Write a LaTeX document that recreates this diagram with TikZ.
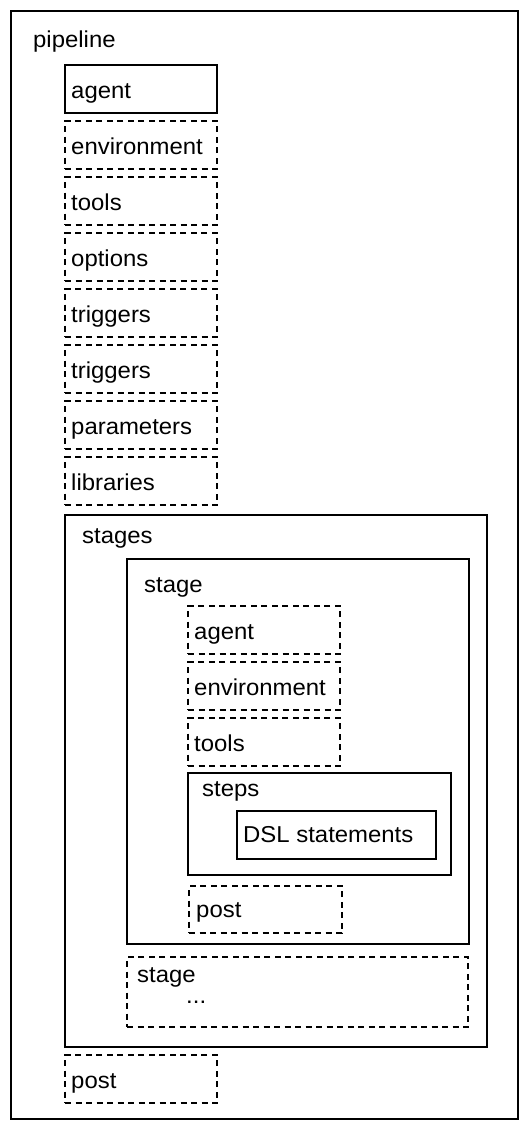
\documentclass[tikz,border=0pt]{standalone}
\usepackage{fontspec}
\setmainfont[FakeStretch=1.04]{Liberation Sans}
\begin{document}
\begin{tikzpicture}[x=1pt,y=-1pt,
  lbl/.style={anchor=base west, inner sep=0pt, font=\fontsize{23}{23}\selectfont},
  sbox/.style={draw, line width=2pt, anchor=north west, inner sep=0pt, outer sep=0pt},
  dbox/.style={sbox, dash pattern=on 6pt off 4.5pt},
]
\useasboundingbox (0,0) rectangle (530,1132);
% outer pipeline
\node[sbox, minimum width=507pt, minimum height=1108pt] (pipeline) at (11,11) {};
\node[lbl] (pipelinelbl) at (33,48) {pipeline};
% top-level boxes
\node[sbox, minimum width=152pt, minimum height=48pt] (agent) at (65,65) {};
\node[lbl] (agentlbl) at (71,98) {agent};
\node[dbox, minimum width=152pt, minimum height=48pt] (env) at (65,121) {};
\node[lbl] (envlbl) at (71,154) {environment};
\node[dbox, minimum width=152pt, minimum height=48pt] (tools) at (65,177) {};
\node[lbl] (toolslbl) at (71,210) {tools};
\node[dbox, minimum width=152pt, minimum height=48pt] (options) at (65,233) {};
\node[lbl] (optionslbl) at (71,266) {options};
\node[dbox, minimum width=152pt, minimum height=48pt] (trig1) at (65,289) {};
\node[lbl] (trig1lbl) at (71,322) {triggers};
\node[dbox, minimum width=152pt, minimum height=48pt] (trig2) at (65,345) {};
\node[lbl] (trig2lbl) at (71,378) {triggers};
\node[dbox, minimum width=152pt, minimum height=48pt] (params) at (65,401) {};
\node[lbl] (paramslbl) at (71,434) {parameters};
\node[dbox, minimum width=152pt, minimum height=48pt] (libs) at (65,457) {};
\node[lbl] (libslbl) at (71,490) {libraries};
% stages
\node[sbox, minimum width=422pt, minimum height=532pt] (stages) at (65,515) {};
\node[lbl] (stageslbl) at (82,543) {stages};
% stage
\node[sbox, minimum width=342pt, minimum height=385pt] (stage) at (127,559) {};
\node[lbl] (stagelbl) at (144,592) {stage};
\node[dbox, minimum width=152pt, minimum height=48pt] (sagent) at (188,606) {};
\node[lbl] (sagentlbl) at (194,639) {agent};
\node[dbox, minimum width=152pt, minimum height=48pt] (senv) at (188,662) {};
\node[lbl] (senvlbl) at (194,695) {environment};
\node[dbox, minimum width=152pt, minimum height=48pt] (stools) at (188,718) {};
\node[lbl] (stoolslbl) at (194,751) {tools};
% steps
\node[sbox, minimum width=263pt, minimum height=102pt] (steps) at (188,773) {};
\node[lbl] (stepslbl) at (202,796) {steps};
\node[sbox, minimum width=199pt, minimum height=48pt] (dsl) at (237,811) {};
\node[lbl] (dsllbl) at (243,842) {DSL statements};
% stage post
\node[dbox, minimum width=153pt, minimum height=47pt] (spost) at (189,886) {};
\node[lbl] (spostlbl) at (196,917) {post};
% second stage
\node[dbox, minimum width=341pt, minimum height=70pt] (stage2) at (127,957) {};
\node[lbl] (stage2lbl) at (137,982) {stage};
\node[lbl] (dots) at (186,1003) {...};
% pipeline post
\node[dbox, minimum width=152pt, minimum height=48pt] (post) at (65,1055) {};
\node[lbl] (postlbl) at (71,1088) {post};
\end{tikzpicture}
\end{document}
